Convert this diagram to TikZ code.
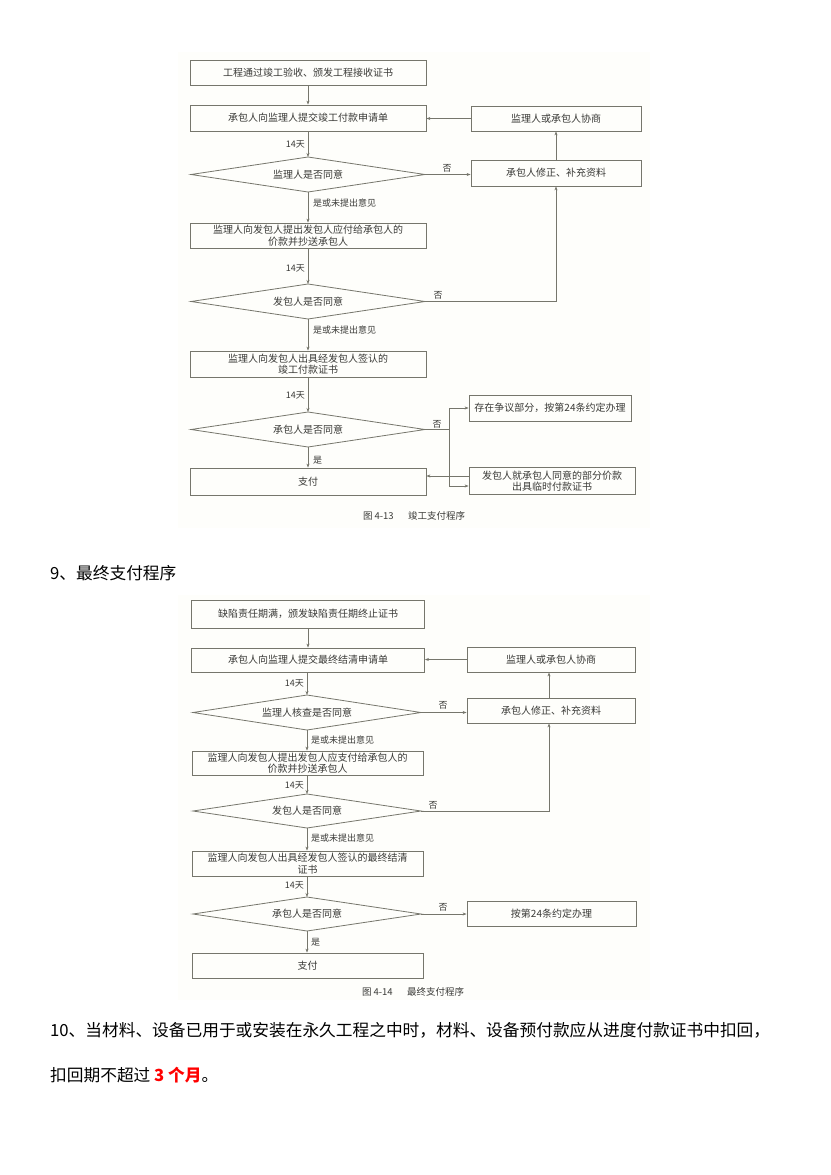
\documentclass[tikz,border=0pt]{standalone}
\usepackage{fontspec}
\setmainfont{Noto Sans CJK SC}
\usetikzlibrary{arrows.meta}
\definecolor{lc}{RGB}{118,118,108}
\definecolor{tc}{RGB}{58,58,55}
\definecolor{bg}{RGB}{254,254,251}
\tikzset{
  box/.style={draw=lc, line width=0.8pt, rectangle, inner sep=0pt, text=tc, font=\fontsize{10}{11.5}\selectfont, align=center},
  dtext/.style={inner sep=0pt, text=tc, font=\fontsize{10}{11.5}\selectfont},
  arr/.style={draw=lc, line width=0.8pt, -{Stealth[length=4pt,width=3pt]}},
  ln/.style={draw=lc, line width=0.8pt},
  lab/.style={text=tc, font=\fontsize{9}{10}\selectfont, inner sep=0pt},
  captxt/.style={text=tc, font=\fontsize{9.5}{11}\selectfont, inner sep=0pt},
  para/.style={text=black, font=\fontsize{16.7}{18}\selectfont, inner sep=0pt, anchor=west}
}
% decision diamond: name, cx, cy, half width, half height, text
\newcommand{\dmd}[6]{%
  \node[dtext] (#1) at (#2,#3) {#6};
  \coordinate (#1-n) at (#2,#3-#5);
  \coordinate (#1-s) at (#2,#3+#5);
  \coordinate (#1-e) at (#2+#4,#3);
  \coordinate (#1-w) at (#2-#4,#3);
  \draw[ln] (#1-n) -- (#1-e) -- (#1-s) -- (#1-w) -- cycle;
}
\begin{document}
\begin{tikzpicture}[x=1pt,y=-1pt]
\useasboundingbox (0,0) rectangle (830,1175);
\fill[white] (0,0) rectangle (830,1175);
\fill[bg] (178,52) rectangle (650,528);
\fill[bg] (178,595) rectangle (650,1000);

% ===== Diagram 1 =====
\node[box, minimum width=236pt, minimum height=25pt] (a1) at (308,73) {工程通过竣工验收、颁发工程接收证书};
\node[box, minimum width=236pt, minimum height=26pt] (a2) at (308,118) {承包人向监理人提交竣工付款申请单};
\dmd{d1}{308}{174.5}{117}{17.5}{监理人是否同意}
\node[box, minimum width=236pt, minimum height=25pt] (a3) at (308,235.5) {监理人向发包人提出发包人应付给承包人的\\价款并抄送承包人};
\dmd{d2}{308}{301.5}{117}{17.5}{发包人是否同意}
\node[box, minimum width=236pt, minimum height=26pt] (a4) at (308,364) {监理人向发包人出具经发包人签认的\\竣工付款证书};
\dmd{d3}{308}{429.5}{117}{17.5}{承包人是否同意}
\node[box, minimum width=236pt, minimum height=27pt] (a5) at (308,481.5) {支付};

\node[box, minimum width=170pt, minimum height=25pt] (r1) at (556,118.5) {监理人或承包人协商};
\node[box, minimum width=170pt, minimum height=26pt] (r2) at (556,173) {承包人修正、补充资料};
\node[box, minimum width=162pt, minimum height=26pt] (r3) at (550,408) {存在争议部分，按第24条约定办理};
\node[box, minimum width=166pt, minimum height=27pt] (r4) at (552,481) {发包人就承包人同意的部分价款\\出具临时付款证书};

\draw[arr] (a1) -- (a2);
\draw[arr] (a2) -- (d1-n);
\draw[arr] (d1-s) -- (a3);
\draw[arr] (a3) -- (d2-n);
\draw[arr] (d2-s) -- (a4);
\draw[arr] (a4) -- (d3-n);
\draw[arr] (d3-s) -- (a5);
\draw[arr] (d1-e) -- (d1-e -| r2.west);
\draw[arr] (d2-e) -| (r2.south);
\draw[arr] (r2) -- (r1);
\draw[arr] (r1.west) -- (r1.west -| a2.east);
\coordinate (b1) at (449,429.5);
\draw[ln] (d3-e) -- (b1);
\draw[arr] (b1) |- (r3.west);
\draw[arr] (b1) |- ([yshift=-5pt]r4.west);
\draw[arr] ([yshift=5pt]r4.west) -- ([yshift=5pt]r4.west -| a5.east);

\node[lab, anchor=east] (l1) at (305,144) {14天};
\node[lab, anchor=west] (l2) at (313,203) {是或未提出意见};
\node[lab, anchor=east] (l3) at (305,268) {14天};
\node[lab, anchor=west] (l4) at (313,330) {是或未提出意见};
\node[lab, anchor=east] (l5) at (305,395) {14天};
\node[lab, anchor=west] (l6) at (313,460) {是};
\node[lab] (n1) at (447,168) {否};
\node[lab] (n2) at (438,295) {否};
\node[lab] (n3) at (437,424) {否};
\node[captxt] (c1) at (414,516) {图 4-13\hspace{1.5em}竣工支付程序};

% ===== Heading =====
\node[para] (h9) at (50,573) {9、最终支付程序};

% ===== Diagram 2 =====
\node[box, minimum width=233pt, minimum height=28pt] (b1x) at (308,614) {缺陷责任期满，颁发缺陷责任期终止证书};
\node[box, minimum width=233pt, minimum height=24pt] (b2x) at (308,660) {承包人向监理人提交最终结清申请单};
\dmd{e1}{307}{712.5}{114}{17.5}{监理人核查是否同意}
\node[box, minimum width=231pt, minimum height=24pt] (b3x) at (307.5,763) {监理人向发包人提出发包人应支付给承包人的\\价款并抄送承包人};
\dmd{e2}{307}{811}{114}{17}{发包人是否同意}
\node[box, minimum width=231pt, minimum height=25pt] (b4x) at (307.5,863.5) {监理人向发包人出具经发包人签认的最终结清\\证书};
\dmd{e3}{307}{914}{114}{17}{承包人是否同意}
\node[box, minimum width=231pt, minimum height=25pt] (b5x) at (307.5,965.5) {支付};

\node[box, minimum width=168pt, minimum height=25pt] (s1) at (551,659.5) {监理人或承包人协商};
\node[box, minimum width=168pt, minimum height=25pt] (s2) at (551,710.5) {承包人修正、补充资料};
\node[box, minimum width=169pt, minimum height=25pt] (s3) at (551.5,913.5) {按第24条约定办理};

\draw[arr] (b1x) -- (b2x);
\draw[arr] (b2x.south -| e1-n) -- (e1-n);
\draw[arr] (e1-s) -- (e1-s |- b3x.north);
\draw[arr] (e1-s |- b3x.south) -- (e2-n);
\draw[arr] (e2-s) -- (e2-s |- b4x.north);
\draw[arr] (e2-s |- b4x.south) -- (e3-n);
\draw[arr] (e3-s) -- (e3-s |- b5x.north);
\draw[arr] (e1-e) -- (e1-e -| s2.west);
\draw[arr] (e2-e) -| ([xshift=-2pt]s2.south);
\draw[arr] ([xshift=-2pt]s2.north) -- ([xshift=-2pt]s1.south);
\draw[arr] (s1.west) -- (s1.west -| b2x.east);
\draw[arr] (e3-e) -- (e3-e -| s3.west);

\node[lab, anchor=east] (m1) at (304,683) {14天};
\node[lab, anchor=west] (m2) at (311,740) {是或未提出意见};
\node[lab, anchor=east] (m3) at (304,785) {14天};
\node[lab, anchor=west] (m4) at (311,838) {是或未提出意见};
\node[lab, anchor=east] (m5) at (304,885) {14天};
\node[lab, anchor=west] (m6) at (311,942) {是};
\node[lab] (o1) at (443,705) {否};
\node[lab] (o2) at (433,805) {否};
\node[lab] (o3) at (443,907) {否};
\node[captxt] (c2) at (413,992) {图 4-14\hspace{1.5em}最终支付程序};

% ===== Paragraph 10 =====
\node[para] (p1) at (50,1030) {10、当材料、设备已用于或安装在永久工程之中时，材料、设备预付款应从进度付款证书中扣回，};
\node[para] (p2) at (50,1075) {扣回期不超过 \textcolor{red}{\bfseries 3 个月}。};
\end{tikzpicture}
\end{document}
